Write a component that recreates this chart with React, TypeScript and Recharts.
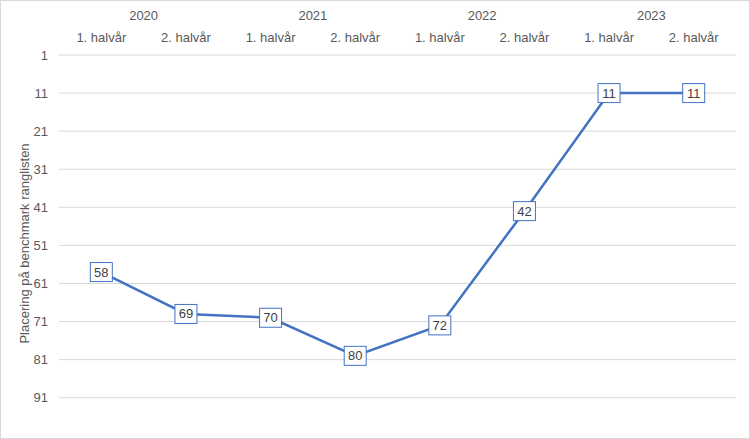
import React from "react"
import {
  LineChart,
  Line,
  XAxis,
  YAxis,
  CartesianGrid,
  LabelList,
} from "recharts"

const halves = ["1. halvår", "2. halvår", "1. halvår", "2. halvår", "1. halvår", "2. halvår", "1. halvår", "2. halvår"]
const years = ["2020", "2021", "2022", "2023"]
const placering = [58, 69, 70, 80, 72, 42, 11, 11]
const yTicks = [1, 11, 21, 31, 41, 51, 61, 71, 81, 91]

const data = halves.map((h, i) => ({ key: `${years[Math.floor(i / 2)]}-${h}`, half: h, value: placering[i] }))

const FONT = "'Liberation Sans', Arial, sans-serif"
const TICK_COLOR = "#595959"
const FS = 13
const W = 750
const H = 439
const M = { top: 0, right: 14, bottom: 7, left: 0 }
const Y_W = 59
const BAND = (W - M.right - Y_W) / halves.length

function HalfTick(props: any) {
  const { x, y, payload } = props
  return (
    <text x={x} y={y} dy={-11} textAnchor="middle" fill={TICK_COLOR} fontSize={FS} fontFamily={FONT}>
      {halves[payload.index]}
    </text>
  )
}

function YearTick(props: any) {
  const { x, y, payload } = props
  if (payload.index % 2 !== 0) return <g />
  return (
    <text x={x + BAND / 2} y={y} dy={-6} textAnchor="middle" fill={TICK_COLOR} fontSize={FS} fontFamily={FONT}>
      {years[payload.index / 2]}
    </text>
  )
}

function BoxLabel(props: any) {
  const { x, y, value } = props
  const w = 22
  const h = 19
  return (
    <g>
      <rect x={x - w / 2} y={y - h / 2} width={w} height={h} fill="#ffffff" stroke="#4472C4" strokeWidth={1} />
      <text x={x} y={y} dy={4.5} textAnchor="middle" fill="#404040" fontSize={FS} fontFamily={FONT}>
        {value}
      </text>
    </g>
  )
}

export default function App() {
  return (
    <div
      style={{
        position: "absolute",
        left: 0,
        top: 0,
        width: W,
        height: H,
        boxSizing: "border-box",
        border: "1px solid #d9d9d9",
        background: "#fff",
      }}
    >
      <div style={{ position: "absolute", left: -1, top: -1 }}>
        <LineChart width={W} height={H} data={data} margin={M}>
          <CartesianGrid vertical={false} stroke="#d9d9d9" horizontalValues={yTicks} />
          <XAxis
            dataKey="key"
            orientation="top"
            height={27}
            axisLine={false}
            tickLine={false}
            tickSize={0}
            tick={<HalfTick />}
            interval={0}
            padding={{ left: BAND / 2, right: BAND / 2 }}
          />
          <XAxis
            xAxisId="year"
            dataKey="key"
            orientation="top"
            height={28}
            axisLine={false}
            tickLine={false}
            tickSize={0}
            tick={<YearTick />}
            interval={0}
            padding={{ left: BAND / 2, right: BAND / 2 }}
          />
          <YAxis
            reversed
            domain={[1, 100]}
            ticks={yTicks}
            allowDataOverflow
            width={Y_W}
            axisLine={false}
            tickLine={false}
            tickSize={0}
            tickMargin={11}
            tick={{ fill: TICK_COLOR, fontSize: FS, fontFamily: FONT }}
            label={{
              value: "Placering på benchmark ranglisten",
              angle: -90,
              position: "insideLeft",
              offset: 24,
              textAnchor: "middle",
              fill: TICK_COLOR,
              fontSize: FS,
              fontFamily: FONT,
            }}
          />
          <Line
            dataKey="value"
            stroke="#4472C4"
            strokeWidth={2.5}
            dot={false}
            isAnimationActive={false}
          >
            <LabelList dataKey="value" content={<BoxLabel />} />
          </Line>
        </LineChart>
      </div>
    </div>
  )
}
